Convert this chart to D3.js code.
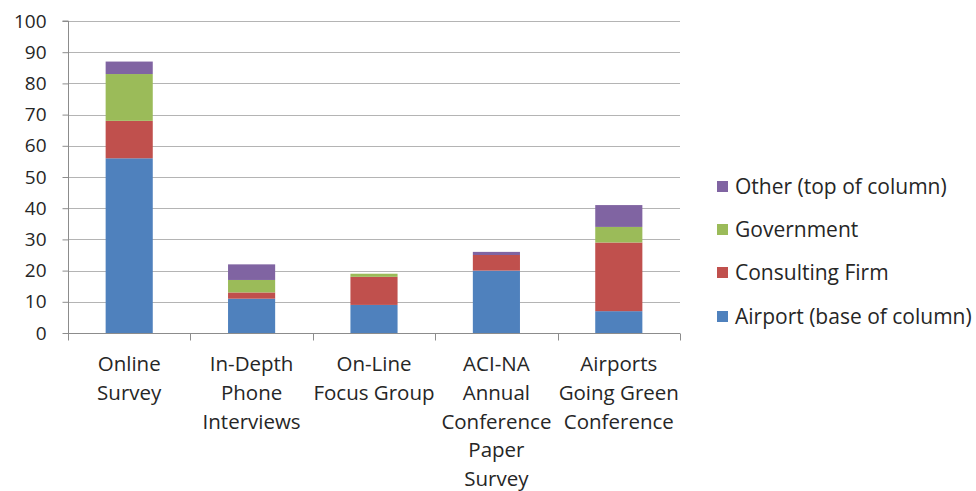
<!DOCTYPE html>
<html>
<head>
<meta charset="utf-8">
<script src="https://cdn.jsdelivr.net/npm/d3@7"></script>
<style>
  html, body { margin: 0; padding: 0; background: #fff; }
  svg { display: block; }
  text { font-family: "Open Sans", "Noto Sans", sans-serif; fill: #262626; }
</style>
</head>
<body>
<svg id="chart" width="976" height="491"></svg>
<script>
// Survey respondents by outreach channel, stacked by organisation type
const categories = [
  ["Online", "Survey"],
  ["In-Depth", "Phone", "Interviews"],
  ["On-Line", "Focus Group"],
  ["ACI-NA", "Annual", "Conference", "Paper", "Survey"],
  ["Airports", "Going Green", "Conference"]
];
const airport    = [56, 11, 9, 20, 7];
const consulting = [12, 2, 9, 5, 22];
const government = [15, 4, 1, 0, 5];
const other      = [4, 5, 0, 1, 7];

const seriesNames = ["Airport (base of column)", "Consulting Firm", "Government", "Other (top of column)"];
const seriesColors = ["#4F81BD", "#C0504D", "#9BBB59", "#8064A2"];
const yTicks = [0, 10, 20, 30, 40, 50, 60, 70, 80, 90, 100];

const svg = d3.select("#chart");
const margin = { left: 68, right: 296, top: 21, bottom: 158 };
const W = 976, H = 491;

const keys = categories.map((c, i) => "c" + i);
const rows = keys.map((k, i) => ({
  key: k,
  airport: airport[i], consulting: consulting[i],
  government: government[i], other: other[i]
}));
const stack = d3.stack().keys(["airport", "consulting", "government", "other"]);
const stacked = stack(rows);

const x = d3.scaleBand().domain(keys).range([margin.left, W - margin.right]).paddingInner(0.615).paddingOuter(0.3075);
const y = d3.scaleLinear().domain([0, 100]).range([H - margin.bottom, margin.top]);

// horizontal gridlines
svg.append("g").selectAll("line").data(yTicks.filter(d => d > 0)).join("line")
  .attr("x1", margin.left).attr("x2", W - margin.right)
  .attr("y1", d => Math.round(y(d)) + 0.5).attr("y2", d => Math.round(y(d)) + 0.5)
  .attr("stroke", "#b4b4b4").attr("stroke-width", 1.2);

// stacked bars
svg.append("g").selectAll("g").data(stacked).join("g")
  .attr("fill", (d, i) => seriesColors[i])
  .selectAll("rect").data(d => d).join("rect")
  .attr("x", d => x(d.data.key))
  .attr("width", x.bandwidth())
  .attr("y", d => y(d[1]))
  .attr("height", d => y(d[0]) - y(d[1]));

// y axis
const yAxis = svg.append("g")
  .attr("transform", `translate(${margin.left + 0.5},0)`)
  .call(d3.axisLeft(y).tickValues(yTicks).tickSize(6).tickPadding(16));
yAxis.select(".domain").attr("stroke", "#8c8c8c").attr("d", `M-6,${y(100)}H0V${y(0)}`);
yAxis.selectAll(".tick line").attr("stroke", "#8c8c8c");
yAxis.selectAll(".tick text").style("font-size", "19px").attr("fill", "#262626");

// x axis baseline with category separators
const base = Math.round(y(0)) + 0.5;
const xg = svg.append("g");
xg.append("line").attr("x1", margin.left).attr("x2", W - margin.right)
  .attr("y1", base).attr("y2", base).attr("stroke", "#8c8c8c").attr("stroke-width", 1.2);
const step = x.step();
const seps = d3.range(categories.length + 1).map(i => margin.left + i * step);
xg.selectAll("line.sep").data(seps).join("line").attr("class", "sep")
  .attr("x1", d => Math.round(d) + 0.5).attr("x2", d => Math.round(d) + 0.5)
  .attr("y1", base).attr("y2", base + 7).attr("stroke", "#8c8c8c");

// category labels
xg.selectAll("text.cat").data(categories).join("text").attr("class", "cat")
  .attr("text-anchor", "middle")
  .attr("x", (d, i) => x(keys[i]) + x.bandwidth() / 2)
  .attr("y", 371)
  .style("font-size", "20.5px")
  .each(function (lines) {
    d3.select(this).selectAll("tspan").data(lines).join("tspan")
      .attr("x", d3.select(this).attr("x"))
      .attr("dy", (d, j) => j === 0 ? 0 : 28.8)
      .text(d => d);
  });

// legend, top series first
const legendOrder = [3, 2, 1, 0];
const lg = svg.append("g");
const legendY = [187, 230, 273, 317];
legendOrder.forEach((s, j) => {
  lg.append("rect").attr("x", 717).attr("y", legendY[j] - 6).attr("width", 11).attr("height", 11)
    .attr("fill", seriesColors[s]);
  lg.append("text").attr("x", 735).attr("y", legendY[j]).attr("dy", "0.35em")
    .style("font-size", "21px").text(seriesNames[s]);
});
</script>
</body>
</html>
